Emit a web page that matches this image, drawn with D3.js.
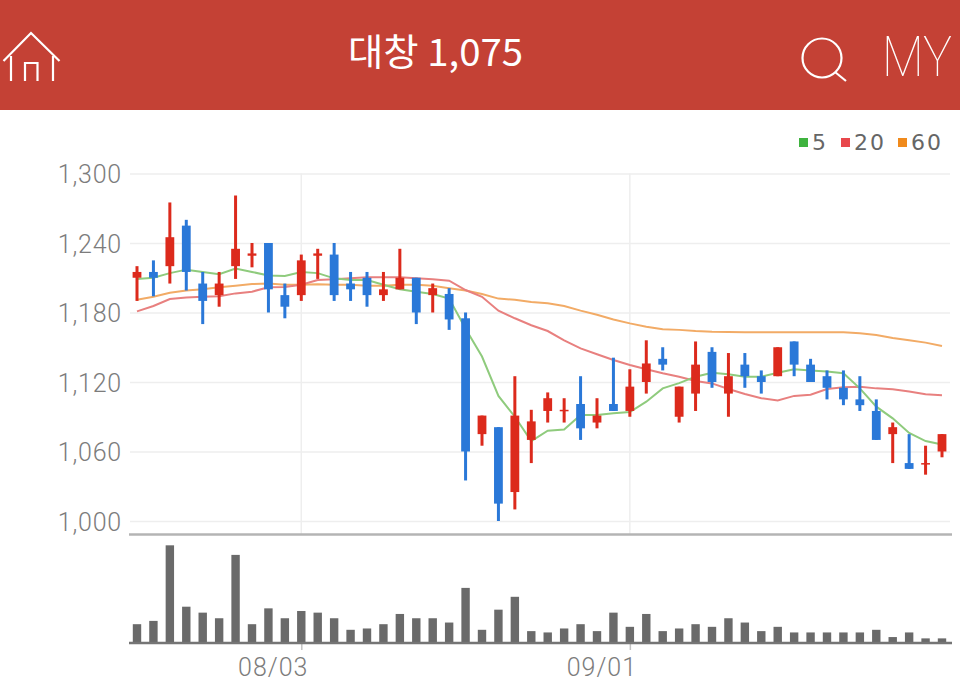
<!DOCTYPE html>
<html><head><meta charset="utf-8">
<script src="https://cdn.jsdelivr.net/npm/d3@7"></script>
<style>html,body{margin:0;padding:0;background:#fff;overflow:hidden}svg{display:block}</style>
</head><body><div id="chart"></div>
<script>
const dates=["07/20","07/21","07/22","07/23","07/24","07/27","07/28","07/29","07/30","07/31",
"08/03","08/04","08/05","08/06","08/07","08/10","08/11","08/12","08/13","08/17",
"08/18","08/19","08/20","08/21","08/24","08/25","08/26","08/27","08/28","08/31",
"09/01","09/02","09/03","09/04","09/07","09/08","09/09","09/10","09/11","09/14",
"09/15","09/16","09/17","09/18","09/21","09/22","09/23","09/24","09/25","09/30"];
const open=[1210,1215,1220,1255,1205,1195,1220,1229,1240,1195,
1195,1229,1230,1205,1210,1195,1200,1210,1195,1196,
1175,1075,1081,1025,1070,1095,1095,1101,1085,1101,
1095,1120,1140,1090,1110,1146,1110,1135,1125,1125,
1155,1135,1125,1115,1105,1095,1075,1050,1050,1060];
const close=[1215,1210,1245,1215,1190,1205,1235,1231,1200,1185,
1225,1231,1195,1200,1195,1200,1210,1180,1201,1174,
1060,1091,1015,1091,1086,1106,1096,1080,1091,1095,
1116,1136,1135,1116,1135,1120,1125,1125,1120,1150,
1135,1120,1115,1105,1100,1070,1081,1045,1050,1075];
const high=[1220,1225,1275,1260,1215,1215,1281,1240,1240,1205,
1230,1235,1240,1215,1215,1215,1235,1210,1205,1201,
1180,1091,1081,1125,1096,1111,1106,1125,1106,1141,
1131,1156,1150,1116,1155,1150,1145,1145,1130,1150,
1155,1140,1130,1130,1125,1105,1085,1075,1065,1075];
const low=[1190,1194,1205,1199,1170,1185,1209,1219,1180,1175,
1190,1209,1190,1190,1185,1190,1200,1170,1180,1165,
1035,1065,1000,1010,1050,1085,1085,1070,1080,1095,
1090,1110,1130,1085,1095,1115,1090,1115,1110,1125,
1125,1120,1105,1100,1095,1070,1050,1045,1040,1055];
const ma5=[1209,1210,1214,1217,1215,1213,1218,1215,1212,1211.5,
1215,1214,1209.5,1208,1208,1204,1200,1198,1196,1192,
1166,1142,1108,1090,1069,1078,1079,1091.5,1091.5,1093,
1094,1103,1114.5,1119,1124.6,1128,1126.7,1124.6,1124.6,1128,
1131,1130,1129,1127.5,1114.5,1098.7,1088.6,1076,1069,1066];
const ma20=[1181,1185.6,1191.6,1193,1193.6,1194,1196.5,1198,1201.7,1202,
1204,1208,1208.7,1209.5,1210.4,1210.4,1210.4,1209.5,1208.7,1207.5,
1199.4,1193.6,1181.6,1175,1169,1164,1156,1149,1144,1139,
1134.7,1131,1127.5,1124.6,1120.8,1118.8,1114,1109.7,1106,1104,
1108,1109,1114,1115.4,1116,1114.5,1113.7,1111.7,1109.4,1108.5];
const ma60=[1191,1193.6,1197,1199,1200,1201.7,1203,1204.6,1205,1204,
1204,1204.3,1204,1204,1203,1203,1204,1204,1203,1201,
1199,1196,1192,1191,1189,1188,1185.6,1181.6,1178,1174,
1170.6,1167.7,1165.5,1165,1164,1163.4,1163.2,1163,1163,1163,
1163,1163,1163,1163,1162,1160.6,1158,1156,1154,1151];
const volume=[57,67,296,110,92,75,267,57,105,75,97,92,75,40,44,57,88,75,75,62,167,40,101,140,36,
32,44,57,36,92,49,88,36,44,57,49,75,62,36,49,32,32,32,32,32,40,18,32,14,14];
const priceTicks=[1000,1060,1120,1180,1240,1300];
const dateTicks=["08/03","09/01"];
const legendNames=["5","20","60"];
const title="대창 1,075";

const W=960,H=694;
const RED="#dc2a1c",BLUE="#2a78d8";
const FONT="Roboto, sans-serif";
const LABEL="#7c7c7c";
const svg=d3.select("#chart").append("svg").attr("width",W).attr("height",H).attr("viewBox",[0,0,W,H]);
const x=d3.scalePoint().domain(dates).range([137,942]);
const y=d3.scaleLinear().domain([1000,1300]).range([521,173.5]);
const yVol=d3.scaleLinear().domain([0,300]).range([643,544]);

// header
svg.append("rect").attr("width",W).attr("height",110).attr("fill","#c44135");
svg.append("text").attr("x",435.5).attr("y",66).attr("text-anchor","middle")
  .attr("font-family","'Noto Sans CJK KR', sans-serif").attr("font-size",37).attr("font-weight",400)
  .attr("textLength",175).attr("lengthAdjust","spacingAndGlyphs")
  .attr("fill","#fff").text(title);
const icon=svg.append("g").attr("fill","none").attr("stroke","#fff").attr("stroke-width",2.2);
icon.append("path").attr("d","M3.5 61 L31 33 L59.5 61 M11 56 V81 M53 56 V81 M25 81 V63 H37.5 V81");
icon.append("circle").attr("cx",822).attr("cy",58).attr("r",19.5);
icon.append("path").attr("d","M835 72 L846 81");
svg.append("text").attr("x",882).attr("y",76).attr("font-family",FONT).attr("font-weight",100)
  .attr("font-size",55).attr("fill","#fff").attr("textLength",70).attr("lengthAdjust","spacingAndGlyphs").text("MY");

// grid + price labels
const gridG=svg.append("g").attr("transform","translate(130,0)")
  .call(d3.axisLeft(y).tickValues(priceTicks).tickSize(-820).tickPadding(0).tickFormat(d3.format(",")));
gridG.select(".domain").remove();
gridG.selectAll(".tick line").attr("stroke","#eeeeee").attr("stroke-width",1.5);
gridG.selectAll(".tick text").attr("x",-8).attr("dy","0.36em").attr("fill",LABEL)
  .attr("font-family",FONT).attr("font-weight",300).attr("font-size",25).attr("letter-spacing",0.8);

// vertical grid
svg.append("g").selectAll("line").data(dateTicks).join("line")
  .attr("x1",d=>x(d)).attr("x2",d=>x(d)).attr("y1",173.5).attr("y2",534)
  .attr("stroke","#eeeeee").attr("stroke-width",1.5);

// moving averages
const lineGen=d3.line().x((d,i)=>x(dates[i])).y(d=>y(d));
[[ma60,"#f2ab66"],[ma20,"#e8807f"],[ma5,"#8fcb7d"]].forEach(([s,c])=>{
  svg.append("path").datum(s).attr("d",lineGen).attr("fill","none").attr("stroke",c).attr("stroke-width",2);
});

// candles
const candles=svg.append("g").selectAll("g").data(dates).join("g")
  .attr("fill",(d,i)=>close[i]>=open[i]?RED:BLUE);
candles.append("rect").attr("x",d=>x(d)-1.5).attr("width",3)
  .attr("y",(d,i)=>y(high[i])).attr("height",(d,i)=>y(low[i])-y(high[i]));
candles.append("rect").attr("x",d=>x(d)-4.4).attr("width",8.8)
  .attr("y",(d,i)=>y(Math.max(open[i],close[i])))
  .attr("height",(d,i)=>Math.max(1.5,Math.abs(y(open[i])-y(close[i]))));

// axis separating panes
svg.append("line").attr("x1",129).attr("x2",952).attr("y1",534.5).attr("y2",534.5)
  .attr("stroke","#b4b4b4").attr("stroke-width",2.6);

// volume
svg.append("g").selectAll("rect").data(dates).join("rect")
  .attr("x",d=>x(d)-4.2).attr("width",8.4)
  .attr("y",(d,i)=>yVol(volume[i])).attr("height",(d,i)=>yVol(0)-yVol(volume[i]))
  .attr("fill","#6a6a6a");
const xAxis=svg.append("g").attr("transform","translate(0,643)")
  .call(d3.axisBottom(x).tickValues(dateTicks).tickSize(7).tickPadding(0));
xAxis.select(".domain").remove();
xAxis.selectAll(".tick line").attr("stroke","#c4c4c4").attr("stroke-width",1.5);
xAxis.selectAll(".tick text").attr("x",-28.5).attr("y",33).attr("dy",0).attr("fill",LABEL)
  .attr("font-family",FONT).attr("font-weight",300).attr("font-size",25).attr("letter-spacing",1);
svg.append("line").attr("x1",129).attr("x2",952).attr("y1",643).attr("y2",643)
  .attr("stroke","#757575").attr("stroke-width",2.6);

// legend
const legendColors=["#3fb33f","#e8474c","#f08a1c"];
const legendX=[799,841,898];
legendNames.forEach((n,i)=>{
  svg.append("rect").attr("x",legendX[i]).attr("y",138).attr("width",9).attr("height",9).attr("fill",legendColors[i]);
  svg.append("text").attr("x",legendX[i]+13).attr("y",150).attr("font-family","'DejaVu Sans', sans-serif")
    .attr("font-size",22).attr("font-weight",500).attr("fill","#666").attr("letter-spacing",2).text(n);
});
</script></body></html>
